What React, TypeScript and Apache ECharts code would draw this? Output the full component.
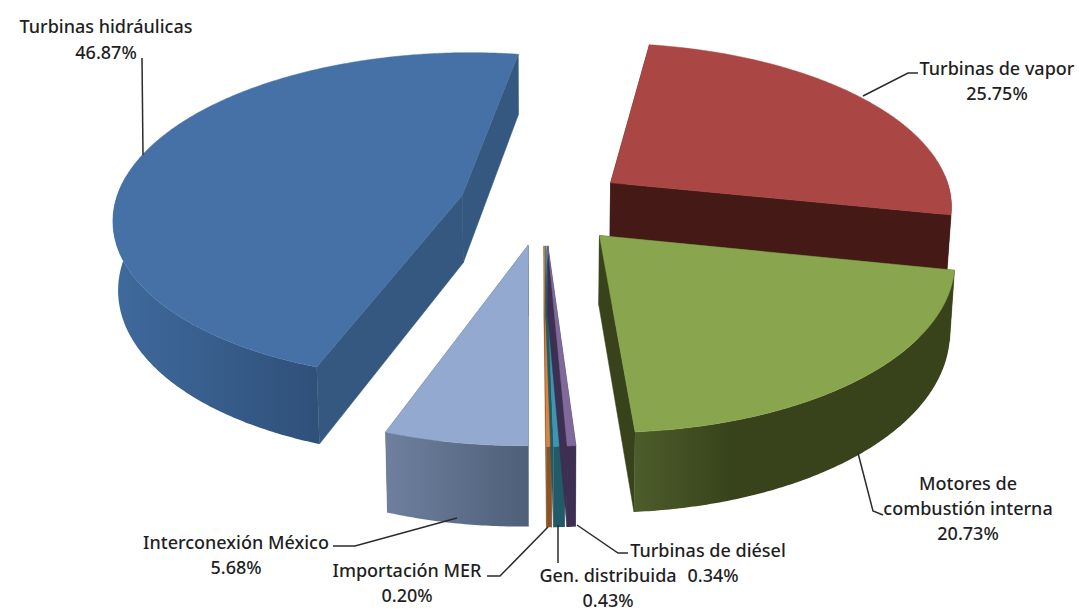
import React, { useEffect, useRef } from "react";
import * as echarts from "echarts";

// Generation shares, in the order the slices are laid out clockwise from the first angle.
const sliceNames = [
  "Turbinas de vapor",
  "Motores de combustión interna",
  "Turbinas de diésel",
  "Gen. distribuida",
  "Importación MER",
  "Interconexión México",
  "Turbinas hidráulicas",
];
const sliceShares = [25.75, 20.73, 0.34, 0.43, 0.2, 5.68, 46.87];
const topColors = ["#aa4643", "#89a54e", "#80699b", "#3d96ae", "#db843d", "#93a9cf", "#4571a6"];
const sideColors = ["#451a16", "#38431b", "#3c2f52", "#235a68", "#8a5427", "#54647e", "#34587f"];
const outerStops = [
  ["#451a16", "#451a16"],
  ["#4d5d2b", "#38431b"],
  ["#3c2f52", "#3c2f52"],
  ["#235a68", "#235a68"],
  ["#8a5427", "#8a5427"],
  ["#6f809f", "#4e5f78"],
  ["#3f6a9d", "#2f5079"],
];
// Far slices are painted first so the near ones overlap them.
const paintOrder = [6, 0, 1, 5, 4, 3, 2];

const firstAngle = 6.7;
const explode = 0.243;

// Projection of the pie's plane onto the page, with foreshortening towards the back.
const cx = 543;
const cy = 205;
const scaleX = 345;
const scaleY = 163;
const shear = 13;
const tilt = 6;
const perspective = 0.129;
const thickness = 68;
const bottomShrink = 0.988;

const rad = (d: number) => (d * Math.PI) / 180;

function project(u: number, v: number, lower: boolean): number[] {
  const w = 1 + perspective * v;
  const x = (scaleX * u + shear * v) / w;
  const y = (-scaleY * v + tilt * u) / w;
  if (!lower) return [cx + x, cy + y];
  return [cx + x * bottomShrink, cy + y + thickness / w];
}

function sliceAngles(index: number): number[] {
  const total = sliceShares.reduce((a, b) => a + b, 0);
  let start = firstAngle;
  for (let i = 0; i < index; i++) start += (sliceShares[i] / total) * 360;
  return [start, start + (sliceShares[index] / total) * 360];
}

function renderSlice(_params: any, api: any) {
  const index = api.value(0);
  const [a0, a1] = sliceAngles(index);
  const mid = rad((a0 + a1) / 2);
  const ou = explode * Math.sin(mid);
  const ov = explode * Math.cos(mid);
  const rim = (deg: number, lower: boolean) =>
    project(ou + Math.sin(rad(deg)), ov + Math.cos(rad(deg)), lower);

  const steps: number[] = [];
  for (let d = a0; d < a1; d += 0.5) steps.push(d);
  steps.push(a1);

  const apexTop = project(ou, ov, false);
  const apexLow = project(ou, ov, true);
  const side = sideColors[index];
  const poly = (points: number[][], fill: any) => ({
    type: "polygon",
    shape: { points },
    style: { fill, stroke: typeof fill === "string" ? fill : undefined, lineWidth: 0.5 },
  });

  const children: any[] = [
    poly([apexTop, rim(a0, false), rim(a0, true), apexLow], side),
    poly([apexTop, rim(a1, false), rim(a1, true), apexLow], side),
  ];

  // Only the part of the rim turned towards the viewer is drawn.
  const visible = steps.filter((d) => {
    const n = ((d % 360) + 360) % 360;
    return n >= 85 && n <= 275;
  });
  if (visible.length > 1) {
    const [from, to] = outerStops[index];
    children.push(
      poly(
        [...visible.map((d) => rim(d, false)), ...[...visible].reverse().map((d) => rim(d, true))],
        new echarts.graphic.LinearGradient(0, 0, 1, 0, [
          { offset: 0, color: from },
          { offset: index === 1 ? 0.3 : 1, color: to },
          { offset: 1, color: to },
        ])
      )
    );
  }
  children.push(poly([apexTop, ...steps.map((d) => rim(d, false))], topColors[index]));
  return { type: "group", children };
}

// Label lines: text, centre x, centre y.
const labelLines: [string, number, number][] = [
  ["Turbinas hidráulicas", 106, 26],
  ["46.87%", 106, 52],
  ["Turbinas de vapor", 997, 68],
  ["25.75%", 997, 93],
  ["Motores de", 968, 483],
  ["combustión interna", 968, 508],
  ["20.73%", 968, 533],
  ["Interconexión México", 236, 542],
  ["5.68%", 236, 567],
  ["Importación MER", 407, 570],
  ["0.20%", 407, 595],
  ["Gen. distribuida", 608, 575],
  ["0.43%", 608, 600],
  ["Turbinas de diésel", 708, 550],
  ["0.34%", 713, 575],
];

// Leader lines from the slices to their labels.
const leaderLines: number[][][] = [
  [[142, 58], [143, 155]],
  [[863, 96], [908, 73], [918, 73]],
  [[858, 453], [873, 511], [883, 515]],
  [[333, 546], [355, 546], [457, 518]],
  [[487, 576], [500, 576], [548, 527]],
  [[558, 525], [558, 563]],
  [[577, 525], [618, 553], [628, 553]],
];

export default function App() {
  const ref = useRef<HTMLDivElement>(null);
  useEffect(() => {
    const chart = echarts.init(ref.current!, undefined, { renderer: "svg" });
    chart.setOption({
      animation: false,
      backgroundColor: "#ffffff",
      series: [
        {
          type: "custom",
          coordinateSystem: "none",
          silent: true,
          data: paintOrder.map((i) => ({ name: sliceNames[i], value: [i, sliceShares[i]] })),
          renderItem: renderSlice,
        },
      ],
      graphic: [
        ...leaderLines.map((points) => ({
          type: "polyline",
          z: 10,
          shape: { points },
          style: { stroke: "#2b2b2b", lineWidth: 1.5, fill: "none" },
        })),
        ...labelLines.map(([text, x, y]) => ({
          type: "text",
          z: 11,
          x,
          y,
          style: {
            text,
            fill: "#1f1f1f",
            font: "500 18px 'Noto Sans'",
            align: "center",
            verticalAlign: "middle",
          },
        })),
      ],
    });
    return () => chart.dispose();
  }, []);
  return <div ref={ref} style={{ position: "fixed", left: 0, top: 0, width: 1079, height: 613 }} />;
}
